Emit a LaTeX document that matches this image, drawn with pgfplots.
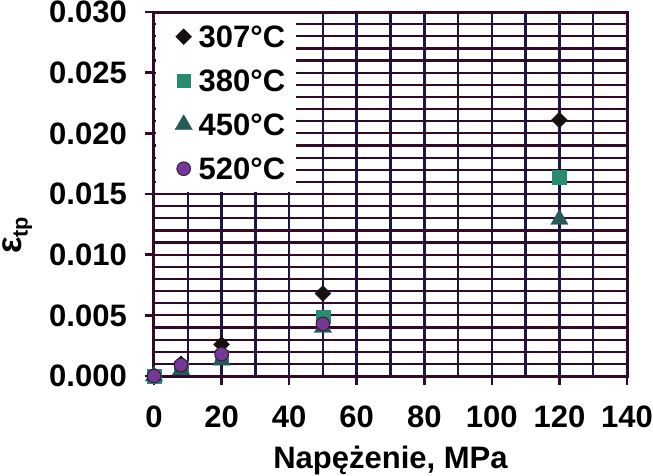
\documentclass[border=0pt]{standalone}
\usepackage{pgfplots}
\pgfplotsset{compat=1.18}
\usepackage{fontspec}
\setmainfont{Liberation Sans}
\definecolor{gridh}{RGB}{48,10,40}
\definecolor{gridv}{RGB}{28,22,72}
\definecolor{csq}{RGB}{40,140,112}
\definecolor{ctri}{RGB}{38,90,86}
\definecolor{ccir}{RGB}{118,56,150}
\definecolor{ccirb}{RGB}{60,24,60}
\definecolor{cdia}{RGB}{24,16,16}
\begin{document}
\begin{tikzpicture}
\useasboundingbox (-154pt,-99pt) rectangle (499pt,376pt);
\begin{axis}[
  at={(0pt,0pt)}, anchor=south west,
  scale only axis, width=473pt, height=364pt,
  xmin=0, xmax=140, ymin=0, ymax=0.03,
  clip=false,
  xtick={0,20,40,60,80,100,120,140},
  ytick={0,0.005,0.01,0.015,0.02,0.025,0.03},
  minor x tick num=1, minor y tick num=4,
  grid=both,
  major x grid style={gridv,line width=2.5pt},
  minor x grid style={gridv,line width=2.5pt},
  major y grid style={gridh,line width=2.2pt},
  minor y grid style={gridh,line width=2.2pt},
  axis line style={gridh,line width=3pt},
  tick align=outside, tick pos=left,
  major tick length=9pt, minor tick length=0pt,
  major tick style={gridh,line width=2.5pt},
  scaled y ticks=false,
  /pgf/number format/assume math mode=true,
  yticklabel style={/pgf/number format/.cd,fixed,fixed zerofill,precision=3,/tikz/.cd},
  tick label style={font=\fontsize{31}{37}\selectfont\bfseries, inner sep=0pt},
  xticklabel style={yshift=-21pt},
  yticklabel style={xshift=-18pt},
  xlabel={Napężenie, MPa},
  xlabel style={at={(rel axis cs:0.5,0)}, anchor=base, yshift=-92pt, font=\fontsize{31}{37}\selectfont\bfseries},
  ylabel={{\fontsize{35}{40}\selectfont ε}\textsubscript{tp}},
  ylabel style={at={(rel axis cs:0,0.387)}, anchor=base, yshift=132pt, font=\fontsize{31}{37}\selectfont\bfseries},
  legend style={at={(rel axis cs:0,1)}, anchor=north west, xshift=1.5pt, yshift=-1.5pt,
    draw=none, fill=white, inner xsep=11pt, inner ysep=12pt, row sep=22pt,
    nodes={inner sep=0pt, text depth=0pt},
    font=\fontsize{31}{37}\selectfont\bfseries},
  legend cell align=left,
  legend image code/.code={\path[draw=none,fill=none] (-17pt,-11pt) rectangle (15pt,11pt); \draw[#1] plot coordinates {(0pt,0pt)};},
]
\addplot[only marks, mark=square*, mark size=5.6pt, mark options={rotate=45, fill=cdia, draw=cdia}]
  coordinates {(0,0) (8,0.0010) (20,0.0026) (50,0.0068) (120,0.0211)};
\addlegendentry{307°C}
\addplot[only marks, mark=square*, mark size=6.8pt, mark options={fill=csq, draw=csq}]
  coordinates {(0,0) (8,0.0007) (20,0.0016) (50,0.0049) (120,0.0164)};
\addlegendentry{380°C}
\addplot[only marks, mark=triangle*, mark size=10pt, mark options={fill=ctri, draw=ctri}]
  coordinates {(0,0) (8,0.0005) (20,0.0013) (50,0.0040) (120,0.0129)};
\addlegendentry{450°C}
\addplot[only marks, mark=*, mark size=6.8pt, mark options={fill=ccir, draw=ccirb, line width=1pt}]
  coordinates {(0,0) (8,0.0009) (20,0.0018) (50,0.0043)};
\addlegendentry{520°C}
\end{axis}
\end{tikzpicture}
\end{document}
